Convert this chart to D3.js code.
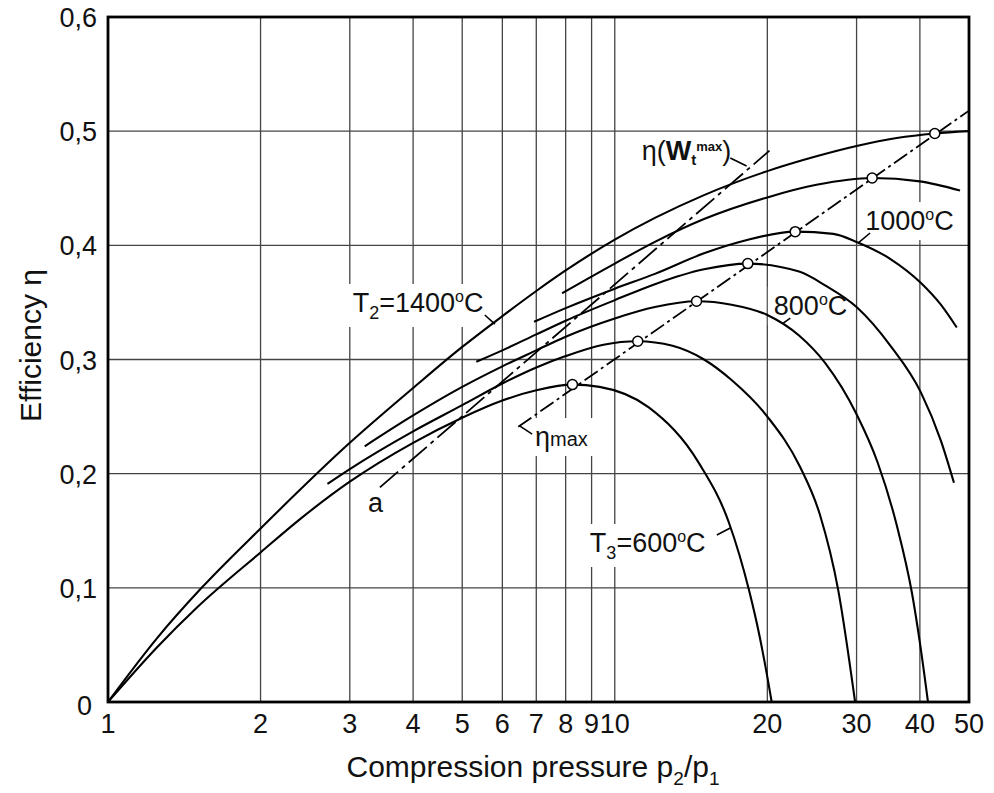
<!DOCTYPE html>
<html>
<head>
<meta charset="utf-8">
<script src="https://cdn.jsdelivr.net/npm/d3@7"></script>
<style>
  body { margin: 0; background: #fff; }
  svg text { font-family: "Liberation Sans", Arial, sans-serif; fill: #111; }
</style>
</head>
<body>
<div class="chart"></div>
<script>
// ticks
const xTicks = [1, 2, 3, 4, 5, 6, 7, 8, 9, 10, 20, 30, 40, 50];
const xGrid = [2, 3, 4, 5, 6, 7, 8, 9, 10, 20, 30, 40];
const yTicks = [0, 0.1, 0.2, 0.3, 0.4, 0.5, 0.6];
const yTickLabels = ["0", "0,1", "0,2", "0,3", "0,4", "0,5", "0,6"];

// efficiency curves [p2/p1, eta]
const curve1400 = [[1,0],[1.25,0.056],[1.53,0.1],[2,0.152],[3,0.227],[4,0.275],[5,0.311],[6,0.338],[7,0.360],[8,0.378],[10,0.405],[12,0.424],[15,0.444],[20,0.465],[25,0.478],[30,0.487],[36,0.494],[42.8,0.498],[50,0.500]];
const curve1200 = [[7.87,0.358],[10,0.384],[12,0.403],[15,0.423],[20,0.442],[25,0.453],[32.2,0.459],[40,0.456],[48,0.448]];
const curve1000 = [[6.93,0.333],[8,0.345],[10,0.362],[12,0.375],[15,0.393],[18,0.404],[22.7,0.412],[27,0.410],[30,0.403],[35,0.388],[40.2,0.367],[44,0.348],[47.3,0.328]];
const curve900 = [[5.33,0.298],[6,0.308],[7,0.322],[8,0.334],[10,0.352],[12,0.366],[15,0.379],[18.3,0.384],[23.1,0.377],[26,0.365],[30,0.346],[35,0.312],[40.2,0.271],[44,0.229],[46.7,0.192]];
const curve800 = [[3.21,0.224],[4,0.251],[5,0.276],[6,0.294],[7,0.308],[8,0.320],[10,0.336],[12,0.346],[14.5,0.351],[17,0.348],[20,0.339],[23.1,0.321],[26,0.297],[30,0.252],[33,0.210],[36,0.155],[38.6,0.095],[40,0.052],[41.5,0]];
const curve700 = [[2.71,0.191],[3,0.204],[4,0.237],[5,0.260],[6,0.279],[7,0.293],[8,0.303],[9.5,0.313],[11.1,0.316],[13,0.312],[15,0.300],[17,0.282],[20,0.250],[23.2,0.206],[25.4,0.164],[27.6,0.098],[29.8,0]];
const curve600 = [[1,0],[1.25,0.048],[1.5,0.083],[2,0.131],[2.39,0.160],[3,0.193],[4,0.227],[5,0.249],[6,0.264],[7,0.273],[8.25,0.278],[9.33,0.276],[11.67,0.258],[14.67,0.209],[16.8,0.157],[18.4,0.098],[19.3,0.058],[20,0.022],[20.4,0]];

// maximum efficiency points and the two dashed lines
const etaMaxPoints = [[8.25,0.278],[11.1,0.316],[14.5,0.351],[18.3,0.384],[22.7,0.412],[32.2,0.459],[42.8,0.498]];
const etaMaxLine = [[6.45,0.241],[50,0.518]];
const lineA = [[3.44,0.188],[20.2,0.483]];

// annotation leader lines [p, eta]
const leaders = [
  [[5.54,0.339],[5.80,0.331]],
  [[16.9,0.4765],[18.2,0.4695]],
  [[31.9,0.4108],[30.2,0.402]],
  [[22.2,0.3363],[21.5,0.3319]],
  [[15.9,0.1463],[16.9,0.1524]],
  [[6.50,0.2417],[6.87,0.2347]]
];

// set the dimensions and margins of the graph
const margin = {top: 17, right: 25, bottom: 91, left: 108},
    width = 994 - margin.left - margin.right,
    height = 793 - margin.top - margin.bottom;

const svg = d3.select(".chart")
  .append("svg")
    .attr("width", width + margin.left + margin.right)
    .attr("height", height + margin.top + margin.bottom)
  .append("g")
    .attr("transform", `translate(${margin.left},${margin.top})`);

const x = d3.scaleLog().domain([1, 50]).range([0, width]);
const y = d3.scaleLinear().domain([0, 0.6]).range([height, 0]);

// grid
svg.append("g").selectAll("line")
  .data(xGrid)
  .join("line")
    .attr("x1", d => x(d)).attr("x2", d => x(d))
    .attr("y1", 0).attr("y2", height)
    .attr("stroke", "#444").attr("stroke-width", 1.3);
svg.append("g").selectAll("line")
  .data(yTicks.slice(1, -1))
  .join("line")
    .attr("x1", 0).attr("x2", width)
    .attr("y1", d => y(d)).attr("y2", d => y(d))
    .attr("stroke", "#444").attr("stroke-width", 1.3);

const bgLayer = svg.append("g");

// curves
const line = d3.line()
  .x(d => x(d[0]))
  .y(d => y(d[1]))
  .curve(d3.curveMonotoneX);

const curves = [curve1400, curve1200, curve1000, curve900, curve800, curve700, curve600];
svg.append("g").selectAll("path")
  .data(curves)
  .join("path")
    .attr("fill", "none")
    .attr("stroke", "#000")
    .attr("stroke-width", 2.1)
    .attr("d", line);

// dashed lines
const straight = d3.line().x(d => x(d[0])).y(d => y(d[1]));
svg.append("path")
  .attr("d", straight(etaMaxLine))
  .attr("fill", "none").attr("stroke", "#000").attr("stroke-width", 1.8)
  .attr("stroke-dasharray", "16,4,3,4");
svg.append("path")
  .attr("d", straight(lineA))
  .attr("fill", "none").attr("stroke", "#000").attr("stroke-width", 1.8)
  .attr("stroke-dasharray", "24,5,4,5");

svg.append("g").selectAll("path")
  .data(leaders)
  .join("path")
    .attr("d", straight)
    .attr("fill", "none").attr("stroke", "#000").attr("stroke-width", 1.6);

svg.append("g").selectAll("circle")
  .data(etaMaxPoints)
  .join("circle")
    .attr("cx", d => x(d[0]))
    .attr("cy", d => y(d[1]))
    .attr("r", 5)
    .attr("fill", "#fff")
    .attr("stroke", "#000")
    .attr("stroke-width", 1.5);

// frame
svg.append("rect")
  .attr("width", width).attr("height", height)
  .attr("fill", "none").attr("stroke", "#000").attr("stroke-width", 2.8);

// tick labels
svg.append("g").selectAll("text")
  .data(xTicks)
  .join("text")
    .attr("x", d => x(d))
    .attr("y", height + 31)
    .attr("text-anchor", "middle")
    .attr("font-size", 27)
    .text(d => d);
svg.append("g").selectAll("text")
  .data(yTicks)
  .join("text")
    .attr("x", d => d === 0 ? -16 : -11)
    .attr("y", d => d === 0 ? y(d) + 13 : y(d) + 10)
    .attr("text-anchor", "end")
    .attr("font-size", 27)
    .text((d, i) => yTickLabels[i]);

// axis titles
const xt = svg.append("text")
  .attr("x", 425).attr("y", height + 75)
  .attr("text-anchor", "middle")
  .attr("font-size", 30);
xt.append("tspan").text("Compression pressure p");
xt.append("tspan").attr("font-size", 19).attr("dy", 8).text("2");
xt.append("tspan").attr("dy", -8).text("/p");
xt.append("tspan").attr("font-size", 19).attr("dy", 8).text("1");

svg.append("text")
  .attr("transform", `translate(-67,${height / 2 - 14}) rotate(-90)`)
  .attr("text-anchor", "middle")
  .attr("font-size", 30)
  .text("Efficiency η");

// in-plot labels
const labels = svg.append("g");
function label(p, eta, parts) {
  const t = labels.append("text")
    .attr("x", x(p)).attr("y", y(eta))
    .attr("font-size", 27);
  parts.forEach(s => {
    const ts = t.append("tspan").text(s[0]);
    if (s[1]) ts.attr("font-size", s[1]);
    if (s[2]) ts.attr("dy", s[2]);
    if (s[3]) ts.attr("font-weight", "bold");
  });
  return t;
}
const lab = [
  label(3.04, 0.3416, [["T"], ["2", 18, 7], ["=1400", 0, -7], ["o", 16, -10], ["C", 0, 10]]),
  label(11.3, 0.4747, [["η("], ["W", 0, 0, 1], ["t", 15, 5, 1], ["max", 13, -14, 1], [")", 0, 9]]),
  label(31.2, 0.4134, [["1000"], ["o", 16, -10], ["C", 0, 10]]),
  label(20.6, 0.339, [["800"], ["o", 16, -10], ["C", 0, 10]]),
  label(8.93, 0.1314, [["T"], ["3", 18, 7], ["=600", 0, -7], ["o", 16, -10], ["C", 0, 10]]),
  label(6.96, 0.2242, [["η"], ["max", 20, 0]]),
  label(3.26, 0.1664, [["a"]])
];

// white patches behind the labels
lab.slice(0, 6).forEach(t => {
  const b = t.node().getBBox();
  bgLayer.append("rect")
    .attr("x", b.x - 6).attr("y", b.y - 4)
    .attr("width", b.width + 12).attr("height", b.height + 8)
    .attr("fill", "#fff");
});
</script>
</body>
</html>
